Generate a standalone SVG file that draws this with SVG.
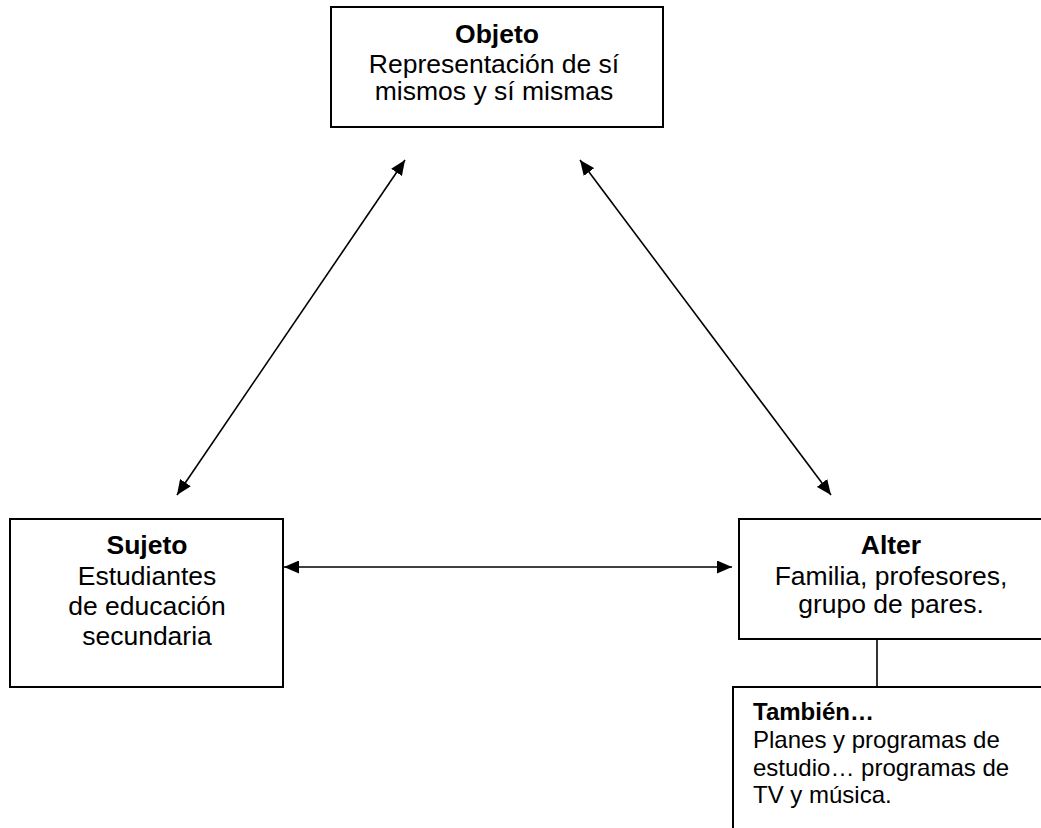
<svg xmlns="http://www.w3.org/2000/svg" width="1041" height="828" viewBox="0 0 1041 828">
<defs>
<style>
.box{fill:#fff;stroke:#000;stroke-width:2}
.t{font-family:"Liberation Sans",Arial,sans-serif;font-size:26.5px;fill:#000}
.c{text-anchor:middle}
.b{font-weight:bold}
.s{font-family:"Liberation Sans",Arial,sans-serif;font-size:24px;fill:#000}
.ln{stroke:#000;stroke-width:1.6;fill:none}
</style>
<marker id="ah" viewBox="0 0 15 13" markerWidth="15" markerHeight="13" refX="15" refY="6.5" orient="auto-start-reverse" markerUnits="userSpaceOnUse">
<path d="M0,0 L15,6.5 L0,13 z" fill="#000"/>
</marker>
</defs>
<rect width="1041" height="828" fill="#fff"/>
<g id="connectors">
<line class="ln" x1="177" y1="495" x2="405" y2="160" marker-start="url(#ah)" marker-end="url(#ah)"/>
<line class="ln" x1="580" y1="160" x2="831" y2="495" marker-start="url(#ah)" marker-end="url(#ah)"/>
<line class="ln" x1="284" y1="567" x2="732" y2="567" marker-start="url(#ah)" marker-end="url(#ah)"/>
<line class="ln" x1="877" y1="639" x2="877" y2="687"/>
</g>
<g id="objeto">
<rect class="box" x="331" y="7" width="332" height="120"/>
<text class="t c b" x="497" y="43">Objeto</text>
<text class="t c" x="494" y="73">Representación de sí</text>
<text class="t c" x="494" y="100">mismos y sí mismas</text>
</g>
<g id="sujeto">
<rect class="box" x="10" y="519" width="273" height="168"/>
<text class="t c b" x="147" y="554">Sujeto</text>
<text class="t c" x="147" y="585">Estudiantes</text>
<text class="t c" x="147" y="615">de educación</text>
<text class="t c" x="147" y="645">secundaria</text>
</g>
<g id="alter">
<rect class="box" x="739" y="519" width="400" height="120"/>
<text class="t c b" x="891" y="554">Alter</text>
<text class="t c" x="891" y="585">Familia, profesores,</text>
<text class="t c" x="891" y="613">grupo de pares.</text>
</g>
<g id="tambien">
<rect class="box" x="733" y="687" width="400" height="200"/>
<text class="s b" x="753" y="720">También…</text>
<text class="s" x="753" y="748">Planes y programas de</text>
<text class="s" x="753" y="776">estudio… programas de</text>
<text class="s" x="753" y="803">TV y música.</text>
</g>
</svg>
